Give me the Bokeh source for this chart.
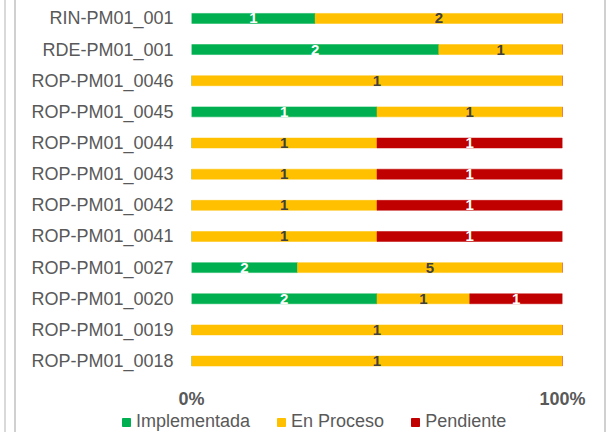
import numpy as np
import pandas as pd
from bokeh.plotting import figure
from bokeh.layouts import column
from bokeh.models import ColumnDataSource, FixedTicker, Range1d, LabelSet, Legend, LegendItem
from bokeh.core.properties import value
from bokeh.embed import file_html
from bokeh.resources import INLINE

categories = ["RIN-PM01_001", "RDE-PM01_001", "ROP-PM01_0046", "ROP-PM01_0045",
              "ROP-PM01_0044", "ROP-PM01_0043", "ROP-PM01_0042", "ROP-PM01_0041",
              "ROP-PM01_0027", "ROP-PM01_0020", "ROP-PM01_0019", "ROP-PM01_0018"]
implementada = [1, 2, 0, 1, 0, 0, 0, 0, 2, 2, 0, 0]
en_proceso = [2, 1, 1, 1, 1, 1, 1, 1, 5, 1, 1, 1]
pendiente = [0, 0, 0, 0, 1, 1, 1, 1, 0, 1, 0, 0]
series_names = ["Implementada", "En Proceso", "Pendiente"]
x_tick_labels = {0: "0%", 1: "100%"}

colors = ["#00B050", "#FFC000", "#C00000"]
label_colors = ["#FFFFFF", "#404040", "#FFFFFF"]
FONT = "Liberation Sans"

n = len(categories)
ypos = [n - 1 - i for i in range(n)]
df = pd.DataFrame({"y": ypos, "imp": implementada, "proc": en_proceso, "pend": pendiente})
keys = ["imp", "proc", "pend"]
tot = df[keys].sum(axis=1)
fkeys = []
for k in keys:
    df[k + "_f"] = df[k] / tot
    fkeys.append(k + "_f")
src = ColumnDataSource(df)

p = figure(width=611, height=411, output_backend="svg", toolbar_location=None,
           x_range=Range1d(0, 1), y_range=Range1d(-0.463, 11.511),
           min_border_left=191, min_border_right=49, min_border_top=2, min_border_bottom=34)
p.frame_align = False
p.outline_line_color = None
p.background_fill_color = "white"
p.border_fill_color = None

rs = p.hbar_stack(fkeys, y="y", height=0.32, color=colors, source=src, line_width=0.5)

# data labels
lx, ly, lt, lc = [], [], [], []
for i in range(n):
    start = 0.0
    for k, fk, c in zip(keys, fkeys, label_colors):
        v = df.loc[i, k]
        f = df.loc[i, fk]
        if v > 0:
            lx.append(start + f / 2)
            ly.append(df.loc[i, "y"])
            lt.append(str(int(v)))
            lc.append(c)
        start += f
lsrc = ColumnDataSource(dict(x=lx, y=ly, t=lt, c=lc))
labels = LabelSet(x="x", y="y", text="t", source=lsrc, text_color="c",
                  text_align="center", text_baseline="middle",
                  text_font=value(FONT), text_font_size="15px", text_font_style="bold")
p.add_layout(labels)

# axes
p.yaxis.ticker = FixedTicker(ticks=ypos)
p.yaxis.major_label_overrides = {y: c for y, c in zip(ypos, categories)}
p.yaxis.major_label_text_font = FONT
p.yaxis.major_label_text_font_size = "18px"
p.yaxis.major_label_text_color = "#595959"
p.yaxis.major_tick_line_color = None
p.yaxis.major_tick_out = 0
p.yaxis.major_tick_in = 0
p.yaxis.minor_tick_line_color = None
p.yaxis.axis_line_color = None
p.yaxis.major_label_standoff = 18

p.xaxis.ticker = FixedTicker(ticks=list(x_tick_labels.keys()))
p.xaxis.major_label_overrides = x_tick_labels
p.xaxis.major_label_text_font = FONT
p.xaxis.major_label_text_font_size = "18px"
p.xaxis.major_label_text_font_style = "bold"
p.xaxis.major_label_text_color = "#595959"
p.xaxis.major_tick_line_color = None
p.xaxis.major_tick_out = 0
p.xaxis.major_tick_in = 0
p.xaxis.minor_tick_line_color = None
p.xaxis.axis_line_color = None
p.xaxis.major_label_standoff = 13

p.xgrid.ticker = FixedTicker(ticks=[0, 1])
p.xgrid.grid_line_color = "#D9D9D9"
p.xgrid.grid_line_width = 2
p.ygrid.grid_line_color = None

# legend strip (separate small figure below the chart; its bars fall outside its view)
lf = figure(width=611, height=21, output_backend="svg", toolbar_location=None,
            x_range=Range1d(0, 1), y_range=Range1d(100, 101),
            x_axis_type=None, y_axis_type=None,
            min_border_left=0, min_border_right=0, min_border_top=0, min_border_bottom=0)
lf.frame_align = False
lf.outline_line_color = None
lf.background_fill_color = None
lf.border_fill_color = None
lf.grid.grid_line_color = None
lrs = lf.hbar_stack(fkeys, y="y", height=0.32, color=colors, source=src)

lg = Legend(items=[LegendItem(label=nm, renderers=[r]) for nm, r in zip(series_names, lrs)])
lg.orientation = "horizontal"
lg.location = (121, 0)
lg.padding = 0
lg.margin = 0
lg.spacing = 26
lg.label_standoff = 5
lg.glyph_width = 10
lg.glyph_height = 10
lg.label_height = 21
lg.label_text_font = FONT
lg.label_text_font_size = "18px"
lg.label_text_color = "#595959"
lg.border_line_color = None
lg.background_fill_alpha = 0
lf.add_layout(lg, "center")

layout = column(p, lf, spacing=0)
layout.styles = {
    "background-color": "white",
    "background-image": (
        "linear-gradient(to right, transparent 4px, #D9D9D9 4px, #D9D9D9 6px, transparent 6px, "
        "transparent 14px, #D0D0D0 14px, #D0D0D0 16px, transparent 16px, "
        "transparent 604px, #D0D0D0 604px, #D0D0D0 606px, transparent 606px)"
    ),
}

open("out.html", "w").write(file_html(layout, INLINE))
